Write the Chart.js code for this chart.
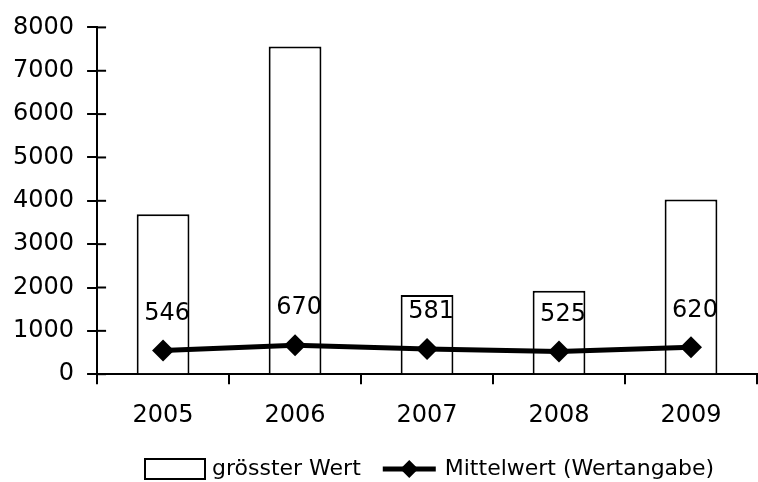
<!DOCTYPE html>
<html>
<head>
<meta charset="utf-8">
<script src="https://cdn.jsdelivr.net/npm/chart.js@4"></script>
<style>
  html, body { margin: 0; padding: 0; background: #fff; overflow: hidden; }
  #wrap { width: 768px; height: 482px; }
</style>
</head>
<body>
<div id="wrap"><canvas id="myChart"></canvas></div>
<script>
const years = ['2005', '2006', '2007', '2008', '2009'];
const maxValues = [3690, 7560, 1825, 1925, 4030];
const meanValues = [546, 670, 581, 525, 620];
const yTicks = [0, 1000, 2000, 3000, 4000, 5000, 6000, 7000, 8000];

const FONT = 'DejaVu Sans';

// crossing ticks on the y axis, value labels and the legend underneath
const extras = {
  id: 'extras',
  afterDraw(chart) {
    const ctx = chart.ctx;
    const y = chart.scales.y;
    const left = chart.chartArea.left;
    ctx.save();
    ctx.strokeStyle = '#000';
    ctx.lineWidth = 2;
    yTicks.forEach(v => {
      const py = y.getPixelForValue(v);
      ctx.beginPath(); ctx.moveTo(left, py); ctx.lineTo(left + 9, py); ctx.stroke();
    });

    const meta = chart.getDatasetMeta(1);
    ctx.fillStyle = '#000';
    ctx.font = '24px "' + FONT + '"';
    ctx.textAlign = 'center';
    ctx.textBaseline = 'middle';
    meta.data.forEach((pt, i) => {
      ctx.fillText(String(meanValues[i]), pt.x + 4, pt.y - 37);
    });

    // legend
    const ly = 469;
    ctx.font = '22px "' + FONT + '"';
    ctx.textAlign = 'left';
    let x = 145;
    ctx.fillStyle = '#fff';
    ctx.fillRect(x, ly - 10, 60, 20);
    ctx.strokeRect(x, ly - 10, 60, 20);
    x += 67;
    ctx.fillStyle = '#000';
    ctx.fillText(chart.data.datasets[0].label, x, ly);
    x += ctx.measureText(chart.data.datasets[0].label).width + 22;
    ctx.lineWidth = 5;
    ctx.beginPath(); ctx.moveTo(x, ly); ctx.lineTo(x + 53, ly); ctx.stroke();
    const cx = x + 26.5;
    ctx.beginPath();
    ctx.moveTo(cx, ly - 9); ctx.lineTo(cx + 9, ly); ctx.lineTo(cx, ly + 9); ctx.lineTo(cx - 9, ly);
    ctx.closePath(); ctx.fill();
    x += 62;
    ctx.fillText(chart.data.datasets[1].label, x, ly);
    ctx.restore();
  }
};

const ctx = document.getElementById('myChart').getContext('2d');
new Chart(ctx, {
  data: {
    labels: years,
    datasets: [{
      type: 'bar',
      label: 'grösster Wert',
      data: maxValues,
      backgroundColor: '#fff',
      borderColor: '#000',
      borderWidth: 2,
      barPercentage: 0.4,
      categoryPercentage: 1,
      order: 2
    }, {
      type: 'line',
      label: 'Mittelwert (Wertangabe)',
      data: meanValues,
      borderColor: '#000',
      backgroundColor: '#000',
      borderWidth: 5,
      pointStyle: 'rectRot',
      pointRadius: 11,
      pointBackgroundColor: '#000',
      pointBorderWidth: 0,
      tension: 0,
      order: 1
    }]
  },
  options: {
    responsive: true,
    maintainAspectRatio: false,
    animation: false,
    layout: { padding: { top: 14, right: 0, left: 0, bottom: 35 } },
    plugins: {
      tooltip: { enabled: false },
      legend: { display: false }
    },
    scales: {
      x: {
        offset: true,
        afterFit(scale) { scale.paddingLeft = 0; scale.paddingRight = 0; },
        grid: { display: true, drawOnChartArea: false, offset: true, color: '#000', lineWidth: 2, tickLength: 10 },
        border: { display: true, color: '#000', width: 2 },
        ticks: { color: '#000', padding: 17, font: { size: 24, family: FONT } }
      },
      y: {
        min: 0,
        max: 8000,
        afterBuildTicks(scale) { scale.ticks = yTicks.map(v => ({ value: v })); },
        grid: { display: true, drawOnChartArea: false, color: '#000', lineWidth: 2, tickLength: 10 },
        border: { display: true, color: '#000', width: 2 },
        ticks: {
          color: '#000', padding: 13, font: { size: 24, family: FONT },
          callback: v => String(v)
        }
      }
    }
  },
  plugins: [extras]
});
</script>
</body>
</html>
